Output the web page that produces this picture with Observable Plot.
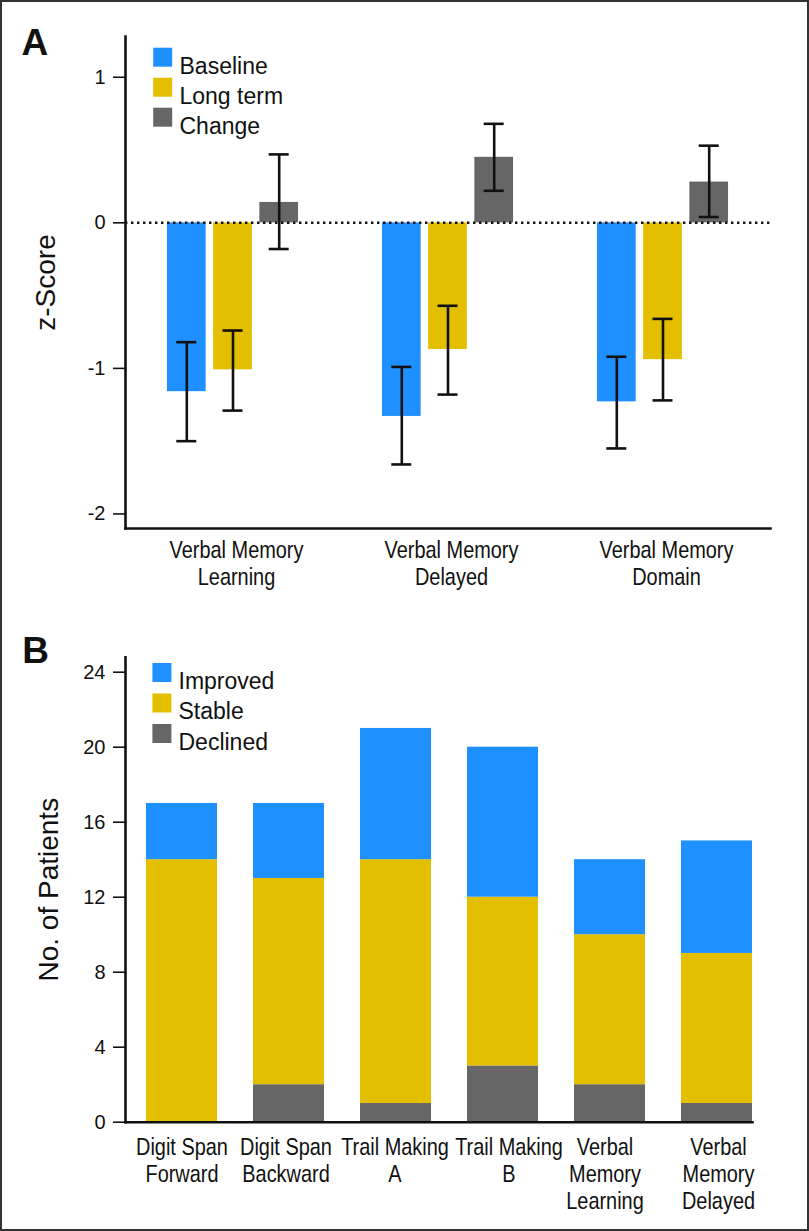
<!DOCTYPE html>
<html>
<head>
<meta charset="utf-8">
<script src="https://cdn.jsdelivr.net/npm/d3@7"></script>
<script src="https://cdn.jsdelivr.net/npm/@observablehq/plot@0.6"></script>
<style>
html, body { margin: 0; padding: 0; background: #fff; }
#wrap { position: relative; width: 809px; height: 1231px; overflow: hidden; background: #fff; }
#wrap svg { position: absolute; left: 0; }
#border { position: absolute; left: 0; top: 0; width: 809px; height: 1231px; box-sizing: border-box; border: 2px solid #333; pointer-events: none; }
</style>
</head>
<body>
<div id="wrap"><div id="border"></div></div>
<script>
// ---------- Panel A data ----------
const groupsA = ["Verbal Memory Learning", "Verbal Memory Delayed", "Verbal Memory Domain"];
const groupLabelsA = ["Verbal Memory\nLearning", "Verbal Memory\nDelayed", "Verbal Memory\nDomain"];
const seriesA = ["Baseline", "Long term", "Change"];
const baselineMean = [-1.16, -1.33, -1.23];
const baselineLo   = [-1.50, -1.66, -1.55];
const baselineHi   = [-0.82, -0.99, -0.92];
const longTermMean = [-1.01, -0.87, -0.94];
const longTermLo   = [-1.29, -1.18, -1.22];
const longTermHi   = [-0.74, -0.57, -0.66];
const changeMean   = [0.14, 0.45, 0.28];
const changeLo     = [-0.18, 0.22, 0.04];
const changeHi     = [0.47, 0.68, 0.53];
const ticksA = [-2, -1, 0, 1];

// ---------- Panel B data ----------
const testsB = ["Digit Span Forward", "Digit Span Backward", "Trail Making A", "Trail Making B", "Verbal Memory Learning", "Verbal Memory Delayed"];
const testLabelsB = ["Digit Span\nForward", "Digit Span\nBackward", "Trail Making\nA", "Trail Making\nB", "Verbal\nMemory\nLearning", "Verbal\nMemory\nDelayed"];
const statusB = ["Improved", "Stable", "Declined"];
const improvedB = [3, 4, 7, 8, 4, 6];
const stableB   = [14, 11, 13, 9, 8, 8];
const declinedB = [0, 2, 1, 3, 2, 1];
const ticksB = [0, 4, 8, 12, 16, 20, 24];

const colors = ["#1E90FF", "#E3BF00", "#666666"];
const FONT = "'Liberation Sans', Arial, Helvetica, sans-serif";
const CONDENSE = 0.83; // horizontal squeeze to imitate the condensed category font

// ---------- Build panel A ----------
const meansA = [baselineMean, longTermMean, changeMean];
const losA = [baselineLo, longTermLo, changeLo];
const hisA = [baselineHi, longTermHi, changeHi];
const rowsA = seriesA.flatMap((s, k) => groupsA.map((g, i) => ({
  group: g, series: s, k, mean: meansA[k][i], lo: losA[k][i], hi: hisA[k][i]
})));

const STEP = 46.2;       // distance between bars within a group
const BAR_INSET = 45.15; // leaves a 38.7px bar in a 129px band
const CAP_INSET = 54.5;  // leaves a 20px cap

const barsA = seriesA.map((s, k) => Plot.barY(rowsA.filter(r => r.series === s), {
  x: "group", y: "mean", fill: colors[k], dx: (k - 1) * STEP,
  insetLeft: BAR_INSET, insetRight: BAR_INSET
}));
const errA = seriesA.flatMap((s, k) => {
  const d = rowsA.filter(r => r.series === s);
  const dx = (k - 1) * STEP;
  return [
    Plot.ruleX(d, {x: "group", y1: "lo", y2: "hi", dx, stroke: "#111", strokeWidth: 2.6}),
    Plot.tickY(d, {x: "group", y: "lo", dx, stroke: "#111", strokeWidth: 2.6, insetLeft: CAP_INSET, insetRight: CAP_INSET}),
    Plot.tickY(d, {x: "group", y: "hi", dx, stroke: "#111", strokeWidth: 2.6, insetLeft: CAP_INSET, insetRight: CAP_INSET})
  ];
});
const legendA = seriesA.flatMap((s, k) => [
  Plot.dot([s], {frameAnchor: "top-left", dx: 37.2, dy: 20.7 + 30 * k, symbol: "square", r: 10.72, fill: colors[k], stroke: "none"}),
  Plot.text([s], {frameAnchor: "top-left", dx: 54, dy: 20.7 + 30 * k, textAnchor: "start", fontSize: 23, fill: "#111"})
]);

const plotA = Plot.plot({
  width: 809, height: 600,
  marginLeft: 125, marginRight: 39, marginTop: 36, marginBottom: 72,
  style: {fontFamily: FONT, color: "#111", background: "transparent", overflow: "visible"},
  x: {domain: groupsA, paddingInner: 0.4, paddingOuter: 0.2},
  y: {domain: [-2.1, 1.28]},
  marks: [
    ...barsA,
    Plot.ruleY([0], {stroke: "#111", strokeWidth: 2.6, strokeDasharray: "2.4,3.6"}),
    ...errA,
    Plot.frame({anchor: "left", stroke: "#111", strokeWidth: 2.6}),
    Plot.frame({anchor: "bottom", stroke: "#111", strokeWidth: 2.6}),
    Plot.axisY({ticks: ticksA, tickSize: 12, tickPadding: 8, tickFormat: d => String(d), fontSize: 20, label: null, strokeWidth: 1.6}),
    Plot.axisX({className: "xlab", tickSize: 0, tickPadding: 11, dx: 3.5, tickFormat: d => groupLabelsA[groupsA.indexOf(d)], fontSize: 24, lineHeight: 1.1, label: null}),
    Plot.text(["z-Score"], {frameAnchor: "left", textAnchor: "middle", rotate: -90, dx: -79, fontSize: 28, fill: "#111"}),
    Plot.text(["A"], {frameAnchor: "top-left", dx: -104, dy: -8, textAnchor: "start", lineAnchor: "top", fontSize: 37, fontWeight: "bold", fill: "#111"}),
    ...legendA
  ]
});
plotA.style.top = "0px";
document.getElementById("wrap").appendChild(plotA);

// ---------- Build panel B ----------
const countsB = {Improved: improvedB, Stable: stableB, Declined: declinedB};
const rowsB = testsB.flatMap((t, i) => ["Declined", "Stable", "Improved"].map(s => ({test: t, status: s, count: countsB[s][i]})));

const legendB = statusB.flatMap((s, k) => [
  Plot.dot([s], {frameAnchor: "top-left", dx: 36.4, dy: 15.3 + 30.5 * k, symbol: "square", r: 10.72, fill: colors[k], stroke: "none"}),
  Plot.text([s], {frameAnchor: "top-left", dx: 53, dy: 15.3 + 30.5 * k, textAnchor: "start", fontSize: 23, fill: "#111"})
]);

// small horizontal nudges of individual category labels, as in the original typesetting
const labelNudgeB = [0, -3, -1, 6, -5, 1.5];
const axisXB = testsB.map((t, i) => Plot.axisX({
  className: "xlab", ticks: [t], tickSize: 0, tickPadding: 13, dx: labelNudgeB[i],
  tickFormat: d => testLabelsB[testsB.indexOf(d)], fontSize: 24, lineHeight: 1.14, label: null
}));

const plotB = Plot.plot({
  width: 809, height: 631,
  marginLeft: 125, marginRight: 57, marginTop: 56.7, marginBottom: 109.3,
  style: {fontFamily: FONT, color: "#111", background: "transparent", overflow: "visible"},
  x: {domain: testsB, paddingInner: 0.335, paddingOuter: 0.0886, align: 1},
  y: {domain: [0, 24.8]},
  color: {domain: statusB, range: colors},
  marks: [
    Plot.barY(rowsB, {x: "test", y: "count", fill: "status", order: ["Declined", "Stable", "Improved"]}),
    Plot.frame({anchor: "left", stroke: "#111", strokeWidth: 2.6}),
    Plot.frame({anchor: "bottom", stroke: "#111", strokeWidth: 2.6}),
    Plot.axisY({ticks: ticksB, tickSize: 12, tickPadding: 8, fontSize: 20, label: null, strokeWidth: 1.6}),
    ...axisXB,
    Plot.text(["No. of Patients"], {frameAnchor: "left", textAnchor: "middle", rotate: -90, dx: -76, fontSize: 28, fill: "#111"}),
    Plot.text(["B"], {frameAnchor: "top-left", dx: -103.3, dy: -20, textAnchor: "start", lineAnchor: "top", fontSize: 37, fontWeight: "bold", fill: "#111"}),
    ...legendB
  ]
});
plotB.style.top = "600px";
document.getElementById("wrap").appendChild(plotB);

// Squeeze the category labels horizontally around their own anchor point
for (const svg of [plotA, plotB]) {
  svg.querySelectorAll(".xlab text").forEach(t => {
    const tr = t.getAttribute("transform");
    if (tr) t.setAttribute("transform", tr + ` scale(${CONDENSE},1)`);
  });
}
</script>
</body>
</html>
